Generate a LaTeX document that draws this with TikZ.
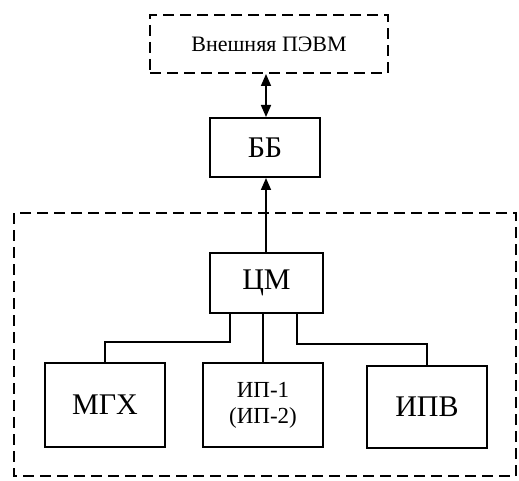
\documentclass[tikz,border=0pt]{standalone}
\usepackage{fontspec}
\setmainfont{Liberation Serif}
\usetikzlibrary{arrows.meta}
\begin{document}
\begin{tikzpicture}[x=1pt,y=-1pt,
  blk/.style={draw,line width=2pt,rectangle,inner sep=0pt,align=center},
  dbox/.style={draw,line width=2pt,dash pattern=on 11pt off 6pt},
  conn/.style={line width=1.6pt},
  tip/.style={-{Triangle[length=12pt,width=10pt]}}]
\useasboundingbox (0,0) rectangle (519,481);
\node[blk,dbox,minimum width=238pt,minimum height=58pt,font=\fontsize{22}{25}\selectfont] (pc) at (269,44) {Внешняя ПЭВМ};
\node[blk,minimum width=110pt,minimum height=59pt,font=\fontsize{30}{32}\selectfont] (bb) at (265,147.5) {ББ};
\draw[dbox] (14,213) rectangle (516,476);
\node[blk,minimum width=113pt,minimum height=60pt,font=\fontsize{30}{32}\selectfont] (cm) at (266.5,283) {ЦМ};
\node[blk,minimum width=120pt,minimum height=84pt,font=\fontsize{30}{32}\selectfont] (mgx) at (105,405) {МГХ};
\node[blk,minimum width=120pt,minimum height=84pt,font=\fontsize{23}{26}\selectfont] (ip) at (263,405) {ИП-1\\(ИП-2)};
\node[blk,minimum width=120pt,minimum height=82pt,font=\fontsize{30}{32}\selectfont] (ipv) at (427,407) {ИПВ};
\coordinate (ax) at (266,0);
\draw[conn,{Triangle[length=12pt,width=10pt]}-{Triangle[length=12pt,width=10pt]}] (pc.south -| ax) -- (bb.north -| ax);
\draw[conn,tip] (cm.north -| ax) -- (bb.south -| ax);
\coordinate (l1) at (230,342);
\coordinate (r1) at (297,344);
\draw[conn] (cm.south -| l1) -- (l1) -| (mgx.north);
\draw[conn] (cm.south -| ip.north) -- (ip.north);
\draw[conn] (cm.south -| r1) -- (r1) -| (ipv.north);
\end{tikzpicture}
\end{document}
